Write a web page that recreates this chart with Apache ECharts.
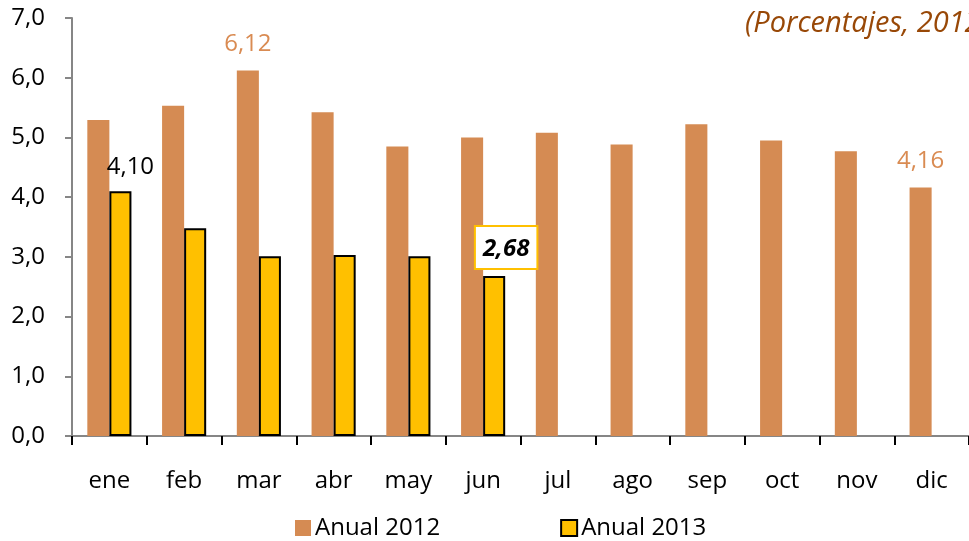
<!DOCTYPE html>
<html><head><meta charset="utf-8">
<script src="https://cdn.jsdelivr.net/npm/echarts@6/dist/echarts.min.js"></script>
<style>html,body{margin:0;padding:0;background:#fff}#c{width:969px;height:541px}</style>
</head><body><div id="c"></div>
<script>
const categories = ['ene','feb','mar','abr','may','jun','jul','ago','sep','oct','nov','dic'];
const anual2012 = [5.29,5.53,6.12,5.42,4.85,5.00,5.08,4.88,5.22,4.95,4.77,4.16];
const anual2013 = [4.10,3.48,3.01,3.03,3.01,2.68];
const yTicks = [0,1,2,3,4,5,6,7];
const seriesNames = ['Anual 2012','Anual 2013'];
const titleText = '(Porcentajes, 2012-2013)';

const FONT = 'Open Sans';
const FS = 24;
const fmt = v => v.toFixed(2).replace('.', ',');

const d2012 = anual2012.map((v,i) => {
  if (i === 2) return {value:v, label:{show:true, position:'top', distance:14, color:'#D98B52', fontSize:FS, fontFamily:FONT, formatter:p=>fmt(p.value)}};
  if (i === 11) return {value:v, label:{show:true, position:'top', distance:10, color:'#D98B52', fontSize:FS, fontFamily:FONT, backgroundColor:'#fff', padding:[4,6], formatter:p=>fmt(p.value)}};
  return v;
});
const d2013 = anual2013.map((v,i) => {
  if (i === 0) return {value:v, label:{show:true, position:'top', distance:12, offset:[10,0], color:'#000', fontSize:FS, fontFamily:FONT, formatter:p=>fmt(p.value)}};
  if (i === 5) return {value:v, label:{show:true, position:'top', distance:8, offset:[12,0], color:'#000', fontSize:FS, fontWeight:'bold', fontStyle:'italic', fontFamily:FONT, borderColor:'#FFC000', borderWidth:2, padding:[10,7,7,7], backgroundColor:'#fff', formatter:p=>fmt(p.value)}};
  return v;
});

const chart = echarts.init(document.getElementById('c'));
chart.setOption({
  animation:false,
  backgroundColor:'#fff',
  title:{text:titleText, left:740, top:4, textStyle:{fontFamily:FONT, fontStyle:'italic', fontWeight:'normal', fontSize:29, color:'#984807'}},
  grid:{left:72, right:0, top:18, bottom:105, containLabel:false},
  legend:{
    data:seriesNames, bottom:-4, left:290, itemGap:120, itemWidth:16, itemHeight:16,
    textStyle:{fontFamily:FONT, fontSize:FS, color:'#000', padding:[0,0,0,-1]},
    icon:'rect'
  },
  xAxis:{
    type:'category', data:categories,
    axisLine:{lineStyle:{color:'#868686', width:2}},
    axisTick:{show:true, length:9, lineStyle:{color:'#000', width:2}},
    axisLabel:{fontFamily:FONT, fontSize:FS, color:'#000', margin:33}
  },
  yAxis:{
    type:'value', min:yTicks[0], max:yTicks[yTicks.length-1], interval:1,
    splitLine:{show:false},
    axisLine:{show:true, lineStyle:{color:'#868686', width:2}},
    axisTick:{show:true, length:7, lineStyle:{color:'#868686', width:2}},
    axisLabel:{fontFamily:FONT, fontSize:FS, color:'#000', margin:27, formatter:v=>v.toFixed(1).replace('.', ',')}
  },
  series:[
    {name:seriesNames[0], type:'bar', data:d2012, barGap:'0%', barCategoryGap:'41%',
     itemStyle:{color:'#D58B53'}},
    {name:seriesNames[1], type:'bar', data:d2013,
     itemStyle:{color:'#FFC000', borderColor:'#000', borderWidth:2}}
  ]
});
</script></body></html>
